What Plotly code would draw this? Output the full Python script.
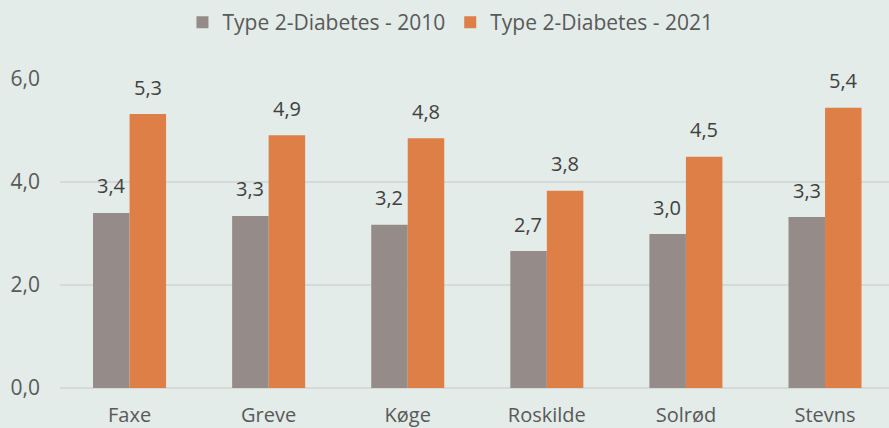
import plotly.graph_objects as go

categories = ["Faxe", "Greve", "Køge", "Roskilde", "Solrød", "Stevns"]
values_2010 = [3.40, 3.34, 3.17, 2.66, 2.99, 3.32]
values_2021 = [5.32, 4.91, 4.85, 3.83, 4.49, 5.44]
series_names = ["Type 2-Diabetes - 2010", "Type 2-Diabetes - 2021"]
tick_vals = [0, 2, 4, 6]
tick_text = ["0,0", "2,0", "4,0", "6,0"]

GRAY = "#958C8A"
ORANGE = "#DE7F47"
BG = "#E3ECE9"
FONT = "Open Sans"

fig = go.Figure()
fig.add_trace(go.Bar(x=categories, y=values_2010, name=series_names[0],
                     marker=dict(color=GRAY, line=dict(width=0))))
fig.add_trace(go.Bar(x=categories, y=values_2021, name=series_names[1],
                     marker=dict(color=ORANGE, line=dict(width=0))))

annotations = []
for vals, shift in ((values_2010, -18.5), (values_2021, 18.5)):
    for c, v in zip(categories, vals):
        annotations.append(dict(
            x=c, y=v, xref="x", yref="y", text=f"{v:.1f}".replace(".", ","),
            showarrow=False, xshift=shift, yshift=27, yanchor="middle",
            font=dict(family=FONT, size=20, color="#404040")))

fig.update_layout(
    width=889, height=428,
    paper_bgcolor=BG, plot_bgcolor=BG,
    margin=dict(l=60, r=0, t=79, b=40, autoexpand=False),
    barmode="group", bargap=0.475, bargroupgap=0,
    font=dict(family=FONT, size=18, color="#595959"),
    legend=dict(orientation="h", x=0.471, xanchor="center", y=0.995, yref="container",
                yanchor="top", font=dict(family=FONT, size=21, color="#595959"),
                bgcolor="rgba(0,0,0,0)", itemwidth=30, entrywidth=0),
    annotations=annotations,
    separators=",.",
)
fig.update_yaxes(range=[0, 6], tickvals=tick_vals, ticktext=tick_text,
                 showgrid=True, gridcolor="#D6D9D8", gridwidth=2,
                 zeroline=True, zerolinecolor="#D6D9D8", zerolinewidth=2,
                 showline=False, ticks="", ticklabelstandoff=19, automargin=False,
                 tickfont=dict(family=FONT, size=21, color="#595959"))
fig.update_xaxes(range=[-0.5, 5.46], showgrid=False, showline=False, ticks="",
                 automargin=False, ticklabelstandoff=13,
                 tickfont=dict(family=FONT, size=20, color="#595959"))

fig.write_html("out.html", config={"displayModeBar": False},
               post_script="document.body.style.margin='0px';document.body.style.background='#E3ECE9';")
